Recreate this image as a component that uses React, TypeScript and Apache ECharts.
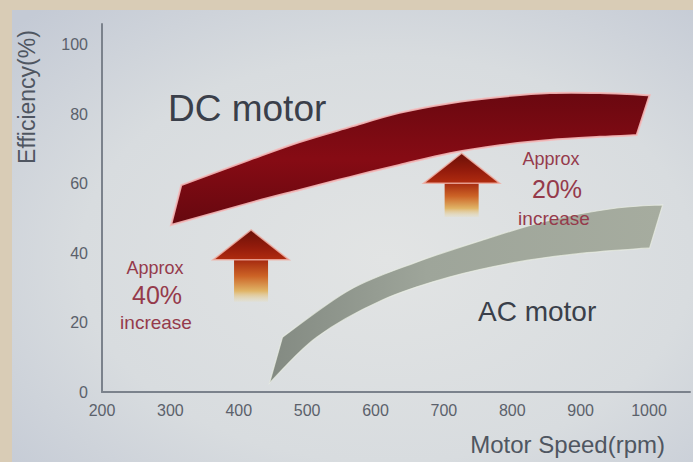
import React, { useEffect, useRef } from 'react';
import * as echarts from 'echarts';

// Tick labels
const xTickValues = [200, 300, 400, 500, 600, 700, 800, 900, 1000];
const yTickValues = [0, 20, 40, 60, 80, 100];

// DC motor efficiency band: upper and lower edges [rpm, %]
const dcUpper = [[316, 59.6], [415, 66.8], [489, 72.0], [562, 76.3], [635, 80.4], [709, 83.2], [782, 85.0], [855, 86.1], [928, 86.1], [1001, 85.5]];
const dcLower = [[301, 48.1], [415, 54.4], [489, 58.2], [562, 61.9], [635, 65.4], [709, 68.8], [782, 71.1], [855, 72.6], [928, 73.5], [982, 74.0]];

// AC motor efficiency band: upper and lower edges [rpm, %]
const acUpper = [[464, 15.8], [562, 29.4], [660, 37.4], [757, 43.8], [855, 49.5], [953, 53.0], [1020, 53.9]];
const acLower = [[445, 2.6], [514, 15.8], [610, 26.5], [708, 33.1], [806, 37.4], [903, 40.0], [1001, 41.5]];

// Improvement arrows: rpm position, base %, tip %
const arrowX = [418, 726];
const arrowFrom = [26, 50.4];
const arrowTo = [46.7, 68.8];

const FONT = '"Liberation Sans", Arial, sans-serif';

function smoothSeg(pts: number[][]): string {
  let d = '';
  for (let i = 0; i < pts.length - 1; i++) {
    const p0 = pts[i - 1] || pts[i];
    const p1 = pts[i];
    const p2 = pts[i + 1];
    const p3 = pts[i + 2] || p2;
    const c1x = p1[0] + (p2[0] - p0[0]) / 6;
    const c1y = p1[1] + (p2[1] - p0[1]) / 6;
    const c2x = p2[0] - (p3[0] - p1[0]) / 6;
    const c2y = p2[1] - (p3[1] - p1[1]) / 6;
    d += ` C ${c1x} ${c1y} ${c2x} ${c2y} ${p2[0]} ${p2[1]}`;
  }
  return d;
}

function bandRender(upper: number[][], lower: number[][], fill: any, stroke: string, lw: number) {
  return (_params: any, api: any) => {
    const up = upper.map((p) => api.coord(p));
    const lo = lower.slice().reverse().map((p) => api.coord(p));
    const d =
      `M ${up[0][0]} ${up[0][1]}` +
      smoothSeg(up) +
      ` L ${lo[0][0]} ${lo[0][1]}` +
      smoothSeg(lo) +
      ' Z';
    return {
      type: 'path',
      shape: { pathData: d },
      style: { fill, stroke, lineWidth: lw },
    };
  };
}

export default function App() {
  const ref = useRef<HTMLDivElement>(null);

  useEffect(() => {
    if (!ref.current) return;
    const chart = echarts.init(ref.current, null, { renderer: 'svg' });

    const dcFill = new echarts.graphic.LinearGradient(0, 0, 0, 1, [
      { offset: 0, color: '#6a0810' },
      { offset: 0.5, color: '#860b14' },
      { offset: 1, color: '#66080f' },
    ]);
    const acFill = new echarts.graphic.LinearGradient(0, 0, 1, 0, [
      { offset: 0, color: '#838a82' },
      { offset: 0.4, color: '#9ea59a' },
      { offset: 1, color: '#a6ac9f' },
    ]);
    const shaftFill = () =>
      new echarts.graphic.LinearGradient(0, 0, 0, 1, [
        { offset: 0, color: '#a3260e' },
        { offset: 0.4, color: '#cc6326' },
        { offset: 0.75, color: '#e0b466' },
        { offset: 1, color: 'rgba(232,220,180,0.25)' },
      ]);
    const headFill = () =>
      new echarts.graphic.LinearGradient(0, 0, 0, 1, [
        { offset: 0, color: '#6a1008' },
        { offset: 0.6, color: '#951c0c' },
        { offset: 1, color: '#b02c0f' },
      ]);

    const option: any = {
      animation: false,
      backgroundColor: '#d9ccb6',
      grid: { left: 102, right: 3, top: 24, bottom: 70, containLabel: false },
      xAxis: {
        type: 'value',
        min: 200,
        max: 1060,
        interval: 100,
        axisLine: { show: true, lineStyle: { color: '#7b828c', width: 2 } },
        axisTick: { show: false },
        splitLine: { show: false },
        axisLabel: {
          color: '#5b616b',
          fontSize: 16,
          fontFamily: FONT,
          margin: 10,
          formatter: (v: number) => (xTickValues.includes(v) ? String(v) : ''),
        },
      },
      yAxis: {
        type: 'value',
        min: 0,
        max: 106,
        interval: 20,
        axisLine: { show: true, lineStyle: { color: '#7b828c', width: 2 } },
        axisTick: { show: false },
        splitLine: { show: false },
        axisLabel: {
          color: '#5b616b',
          fontSize: 16,
          fontFamily: FONT,
          margin: 14,
          formatter: (v: number) => (yTickValues.includes(v) ? String(v) : ''),
        },
      },
      series: [
        {
          name: 'DC motor',
          type: 'custom',
          coordinateSystem: 'cartesian2d',
          data: [dcUpper[0]],
          renderItem: bandRender(dcUpper, dcLower, dcFill, 'rgba(245,185,185,0.9)', 2),
          z: 3,
        },
        {
          name: 'AC motor',
          type: 'custom',
          coordinateSystem: 'cartesian2d',
          data: [acUpper[0]],
          renderItem: bandRender(acUpper, acLower, acFill, 'rgba(235,240,228,0.7)', 1.2),
          z: 3,
        },
        {
          name: 'Increase',
          type: 'custom',
          coordinateSystem: 'cartesian2d',
          data: arrowX.map((x, i) => [x, arrowFrom[i], arrowTo[i]]),
          renderItem: (_p: any, api: any) => {
            const x = api.value(0);
            const base = api.coord([x, api.value(1)]);
            const tip = api.coord([x, api.value(2)]);
            const headLen = 30;
            const headHalf = 38;
            const shaftHalf = 17;
            const cx = tip[0];
            return {
              type: 'group',
              children: [
                {
                  type: 'rect',
                  shape: {
                    x: cx - shaftHalf,
                    y: tip[1] + headLen - 1,
                    width: shaftHalf * 2,
                    height: base[1] - tip[1] - headLen + 1,
                  },
                  style: { fill: shaftFill() },
                },
                {
                  type: 'polygon',
                  shape: {
                    points: [
                      [cx, tip[1]],
                      [cx + headHalf, tip[1] + headLen],
                      [cx - headHalf, tip[1] + headLen],
                    ],
                  },
                  style: { fill: headFill(), stroke: 'rgba(240,175,165,0.85)', lineWidth: 1.5 },
                },
              ],
            };
          },
          z: 4,
        },
      ],
      graphic: [
        {
          type: 'rect',
          z: -10,
          silent: true,
          shape: { x: 12, y: 10, width: 681, height: 452 },
          style: {
            fill: new echarts.graphic.RadialGradient(0.55, 0.55, 0.75, [
              { offset: 0, color: '#e2e4e4' },
              { offset: 0.6, color: '#d8dcdf' },
              { offset: 1, color: '#c4cad5' },
            ]),
          },
        },
        {
          type: 'text',
          z: 100,
          x: 168,
          y: 108,
          style: { text: 'DC motor', fontSize: 37, fontFamily: FONT, fill: '#3a3f4a', align: 'left', verticalAlign: 'middle' },
        },
        {
          type: 'text',
          z: 100,
          x: 478,
          y: 311,
          style: { text: 'AC motor', fontSize: 28, fontFamily: FONT, fill: '#3a3f4a', align: 'left', verticalAlign: 'middle' },
        },
        {
          type: 'text',
          z: 100,
          x: 155,
          y: 268,
          style: { text: 'Approx', fontSize: 18, fontFamily: FONT, fill: '#953a4b', align: 'center', verticalAlign: 'middle' },
        },
        {
          type: 'text',
          z: 100,
          x: 157,
          y: 295,
          style: { text: '40%', fontSize: 25, fontFamily: FONT, fill: '#953a4b', align: 'center', verticalAlign: 'middle' },
        },
        {
          type: 'text',
          z: 100,
          x: 156,
          y: 322,
          style: { text: 'increase', fontSize: 19, fontFamily: FONT, fill: '#953a4b', align: 'center', verticalAlign: 'middle' },
        },
        {
          type: 'text',
          z: 100,
          x: 551,
          y: 159,
          style: { text: 'Approx', fontSize: 18, fontFamily: FONT, fill: '#953a4b', align: 'center', verticalAlign: 'middle' },
        },
        {
          type: 'text',
          z: 100,
          x: 557,
          y: 189,
          style: { text: '20%', fontSize: 25, fontFamily: FONT, fill: '#953a4b', align: 'center', verticalAlign: 'middle' },
        },
        {
          type: 'text',
          z: 100,
          x: 554,
          y: 218,
          style: { text: 'increase', fontSize: 19, fontFamily: FONT, fill: '#953a4b', align: 'center', verticalAlign: 'middle' },
        },
        {
          type: 'text',
          z: 100,
          x: 665,
          y: 444,
          style: { text: 'Motor Speed(rpm)', fontSize: 24, fontFamily: FONT, fill: '#4f5661', align: 'right', verticalAlign: 'middle' },
        },
        {
          type: 'text',
          z: 100,
          x: 27,
          y: 97,
          rotation: Math.PI / 2,
          style: { text: 'Efficiency(%)', fontSize: 23, fontFamily: FONT, fill: '#4f5661', align: 'center', verticalAlign: 'middle' },
        },
      ],
    };

    chart.setOption(option);
    return () => chart.dispose();
  }, []);

  return (
    <div
      ref={ref}
      style={{ position: 'fixed', left: 0, top: 0, width: 693, height: 462 }}
    />
  );
}
